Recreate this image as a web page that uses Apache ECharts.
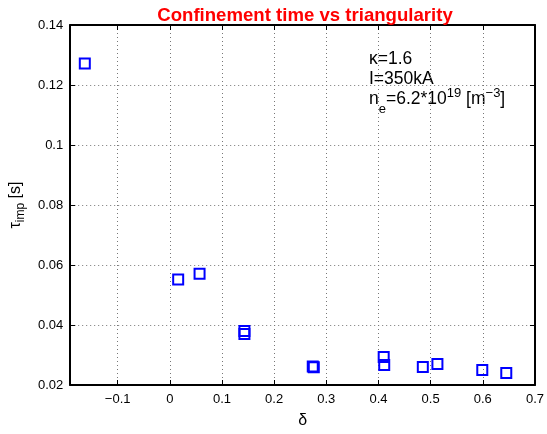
<!DOCTYPE html>
<html><head><meta charset="utf-8">
<script src="https://cdn.jsdelivr.net/npm/echarts@6/dist/echarts.min.js"></script>
<style>html,body{margin:0;padding:0;background:#fff}#c{width:547px;height:434px}</style>
</head><body><div id="c"></div>
<script>
const deltaVals = [-0.163, 0.016, 0.057, 0.143, 0.143, 0.274, 0.276, 0.410, 0.411, 0.485, 0.513, 0.599, 0.645];
const tauVals   = [0.1272, 0.0552, 0.0571, 0.0380, 0.0370, 0.0262, 0.0259, 0.0293, 0.0267, 0.0260, 0.0270, 0.0250, 0.0240];
const xTicks = [-0.1, 0, 0.1, 0.2, 0.3, 0.4, 0.5, 0.6, 0.7];
const yTicks = [0.02, 0.04, 0.06, 0.08, 0.1, 0.12, 0.14];
const titleText = 'Confinement time vs triangularity';

const FONT = '"Liberation Sans", Arial, Helvetica, sans-serif';
const fmtX = v => { const r = Math.round(v*10)/10; return (r < 0 ? '\u2212' + Math.abs(r) : String(r)); };
const fmtY = v => String(Math.round(v*100)/100);
const chart = echarts.init(document.getElementById('c'));
const axisCommon = {
  axisLine: {show: true, onZero: false, lineStyle: {color: '#000', width: 2}},
  axisTick: {show: true, inside: true, length: 5, lineStyle: {color: '#000', width: 1}},
};
chart.setOption({
  animation: false,
  backgroundColor: '#fff',
  title: {text: titleText, left: 300, top: 1, textAlign: 'center',
    textStyle: {color: '#ff0000', fontFamily: FONT, fontWeight: 'bold', fontSize: 18.6}},
  grid: {left: 69, right: 10, top: 25, bottom: 42},
  xAxis: [{
    type: 'value', min: -0.191, max: 0.7, position: 'bottom',
    ...axisCommon,
    axisTick: {...axisCommon.axisTick, customValues: xTicks},
    axisLabel: {customValues: xTicks, formatter: fmtX, color: '#000', fontFamily: FONT, fontSize: 13, margin: 8},
    splitLine: {show: true, lineStyle: {type: [1, 3], color: '#777', width: 1}},
    name: 'δ', nameLocation: 'middle', nameGap: 28,
    nameTextStyle: {color: '#000', fontFamily: FONT, fontSize: 16}
  }, {
    type: 'value', min: -0.191, max: 0.7, position: 'top',
    ...axisCommon,
    axisTick: {...axisCommon.axisTick, customValues: xTicks},
    axisLabel: {show: false}, splitLine: {show: false}
  }],
  yAxis: [{
    type: 'value', min: 0.02, max: 0.14, interval: 0.02, position: 'left',
    ...axisCommon,
    axisLabel: {formatter: fmtY, color: '#000', fontFamily: FONT, fontSize: 13, margin: 7},
    splitLine: {show: true, lineStyle: {type: [1, 3], color: '#777', width: 1}},
    name: '{t|τ}{s|imp}{t| [s]}', nameLocation: 'middle', nameGap: 40, nameRotate: 90,
    nameTextStyle: {color: '#000', fontFamily: FONT, fontSize: 16,
      rich: {t: {fontSize: 16, fontFamily: FONT, color: '#000'},
             s: {fontSize: 12, fontFamily: FONT, color: '#000', verticalAlign: 'bottom', padding: [10,0,0,0]}}}
  }, {
    type: 'value', min: 0.02, max: 0.14, interval: 0.02, position: 'right',
    ...axisCommon,
    axisLabel: {show: false}, splitLine: {show: false}
  }],
  series: [{
    type: 'scatter',
    data: deltaVals.map((d, i) => [d, tauVals[i]]),
    symbol: 'rect', symbolSize: 10,
    itemStyle: {color: 'rgba(0,0,0,0)', borderColor: '#0000ff', borderWidth: 2, opacity: 1}
  }],
  graphic: [
    {type: 'text', left: 369, top: 50, style: {text: 'κ=1.6', fontFamily: FONT, fontSize: 17.5, fill: '#000'}},
    {type: 'text', left: 369, top: 70.5, style: {text: 'I=350kA', fontFamily: FONT, fontSize: 17.5, fill: '#000'}},
    {type: 'text', left: 369, top: 84, style: {
      text: '{t|n}{s|e}{t|=6.2*10}{p|19}{t| [m}{p|−3}{t|]}',
      rich: {t: {fontFamily: FONT, fontSize: 17.5, color: '#000', verticalAlign: 'middle', lineHeight: 32, padding: [0,0,2,0]},
             s: {fontFamily: FONT, fontSize: 13, color: '#000', verticalAlign: 'bottom', lineHeight: 13},
             p: {fontFamily: FONT, fontSize: 13, color: '#000', verticalAlign: 'top', lineHeight: 13, padding: [3,0,0,0]}}
    }}
  ]
});
</script></body></html>
